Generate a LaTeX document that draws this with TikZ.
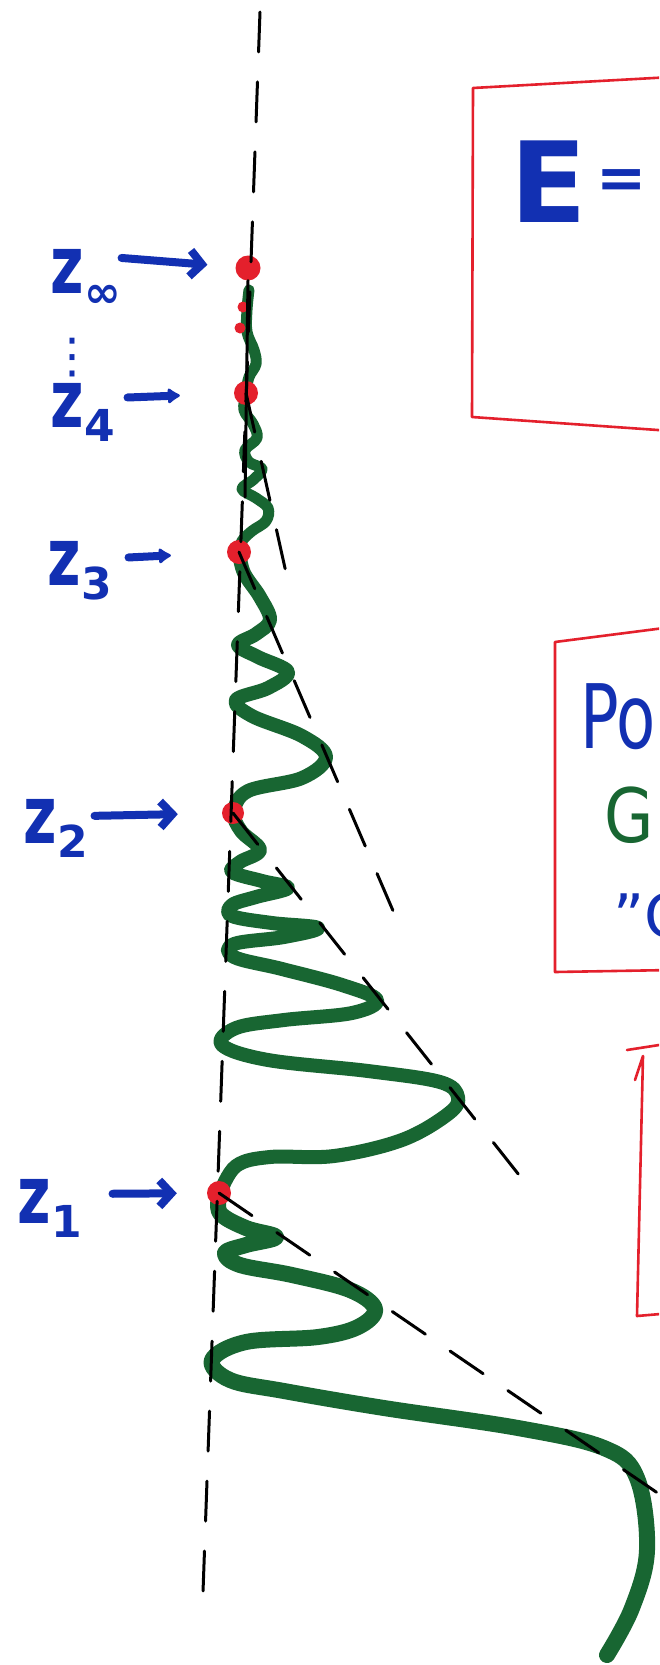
\documentclass[tikz,border=0pt]{standalone}
\usepackage{fontspec}
\setmainfont{DejaVu Sans}
\usetikzlibrary{positioning, arrows.meta, calc}
\definecolor{penred}{RGB}{228,32,44}
\definecolor{penblue}{RGB}{18,48,178}
\definecolor{pengreen}{RGB}{24,102,50}
\newcommand{\zsym}[1]{\scalebox{0.8}[1.12]{z}\kern1pt\raisebox{-14pt}{\fontsize{44}{44}\selectfont #1}}

\begin{document}
\begin{tikzpicture}[x=1pt, y=-1pt,
  wave/.style={pengreen, line width=14pt, line cap=round, line join=round},
  guide/.style={line width=3pt, dash pattern=on 40pt off 30pt, line cap=round},
  zdot/.style={circle, fill=penred, inner sep=0pt, minimum size=22pt},
  zlab/.style={penblue, inner sep=0pt, anchor=base west, font=\bfseries\fontsize{72}{72}\selectfont},
  zarrow/.style={penblue, line width=8pt, line cap=round, -{Straight Barb[length=12pt, width=26pt]}},
  zarrowb/.style={penblue, line width=8pt, line cap=round, -{Latex[length=14pt, width=19pt, round]}},
  boxtext/.style={inner sep=0pt, anchor=base west},
  redbox/.style={penred, line width=2.6pt, line join=round, line cap=round}
]
\clip (0,0) rectangle (659,1665);
\fill[white] (0,0) rectangle (659,1665);

\draw[wave, line width=11pt] plot[smooth, tension=0.6] coordinates {(249,290) (247,310) (247,332) (254,350) (256,364) (249,377) (246,393) (244,410) (253,424) (257,438) (245,450) (249,462) (262,469) (253,480) (242,489) (256,498) (268,508) (266,521) (252,531) (242,541) (239,552)};
\draw[wave] plot[smooth, tension=0.6] coordinates {(239,552) (244,573) (260,597) (270,620) (256,634) (238,645) (258,657) (288,672) (268,688) (236,700) (252,716) (302,736) (326,757) (302,778) (248,791) (234,812) (241,831) (260,850) (240,862) (232,872) (262,881) (288,888) (256,897) (232,905) (232,916) (272,923) (318,928) (284,937) (234,944) (234,957) (282,969) (342,985) (377,1000) (352,1013) (284,1020) (236,1028) (222,1045) (268,1060) (368,1071) (440,1082) (458,1097) (448,1114) (402,1140) (334,1156) (270,1157) (236,1166) (220,1193)};
\draw[wave, line width=16pt] plot[smooth, tension=0.6] coordinates {(220,1193) (220,1213) (246,1228) (276,1237) (246,1245) (225,1253) (240,1265) (292,1275) (350,1290) (375,1309) (358,1327) (318,1337) (246,1342) (212,1360) (230,1380) (284,1391) (384,1408) (518,1428) (604,1448) (637,1478) (647,1550) (632,1608) (607,1655)};

\node[zdot, minimum size=25pt] (dinf) at (248,268) {};
\node[zdot, minimum size=11pt] (da) at (243,307) {};
\node[zdot, minimum size=11pt] (db) at (240,328) {};
\node[zdot, minimum size=24pt] (d4) at (246,393) {};
\node[zdot, minimum size=24pt] (d3) at (239,552) {};
\node[zdot] (d2) at (233,813) {};
\node[zdot, minimum size=24pt] (d1) at (219,1193) {};

\coordinate (vtop) at (260,12);
\coordinate (vbot) at (203,1592);
\coordinate (e4) at (291,595);
\coordinate (e3) at (397,920);
\coordinate (e2) at (523,1180);
\coordinate (e1) at (700,1522);
\draw[guide] (vtop) -- (vbot);
\draw[line width=3pt, line cap=round] (dinf.south) -- (245,497);
\draw[guide] (d4.center) -- (e4);
\draw[guide] (d3.center) -- (e3);
\draw[guide] (d2.center) -- (e2);
\draw[guide] (d1.center) -- (e1);

\node[zlab] (linf) at (50,293) {\zsym{∞}};
\node[penblue, inner sep=0pt, font=\fontsize{48}{48}\selectfont] (vd) at (72,358) {⋮};
\node[zlab] (l4) at (50,427) {\zsym{4}};
\node[zlab] (l3) at (47,585) {\zsym{3}};
\node[zlab] (l2) at (23,843) {\zsym{2}};
\node[zlab] (l1) at (17,1223) {\zsym{1}};
\draw[zarrow, shorten >=28pt] ([yshift=20pt]linf.east) -- (dinf);
\draw[zarrowb, shorten <=12pt, shorten >=54pt] ([yshift=14pt]l4.east) -- (d4);
\draw[zarrowb, shorten <=16pt, shorten >=56pt] ([yshift=12pt]l3.east) -- (d3);
\draw[zarrow, shorten <=6pt, shorten >=44pt] ([yshift=12pt]l2.east) -- (d2);
\draw[zarrow, shorten <=30pt, shorten >=30pt] ([yshift=14pt]l1.east) -- (d1);

\draw[redbox] (672,77) -- (473,88) -- (472,417) -- (672,431);
\draw[redbox] (672,627) -- (555,642) -- (555,972) -- (672,970);
\draw[redbox] (672,1043) -- (627,1050);
\draw[redbox] (635,1080) -- (643,1056) -- (637,1316) -- (672,1313);

\node[boxtext, penblue, font=\bfseries\fontsize{112}{112}\selectfont] (etext) at (510,222) {E\kern10pt\raisebox{24pt}{\fontsize{60}{60}\selectfont\bfseries =}};
\node[boxtext, penblue, font=\fontsize{89}{89}\selectfont] (po) at (580,748) {\scalebox{0.72}[1]{Po}};
\node[boxtext, pengreen, font=\fontsize{75}{75}\selectfont] (gg) at (604,842) {\scalebox{0.85}[1]{G}};
\node[boxtext, penblue, font=\fontsize{60}{60}\selectfont] (qc) at (613,937) {"C};
\end{tikzpicture}
\end{document}
